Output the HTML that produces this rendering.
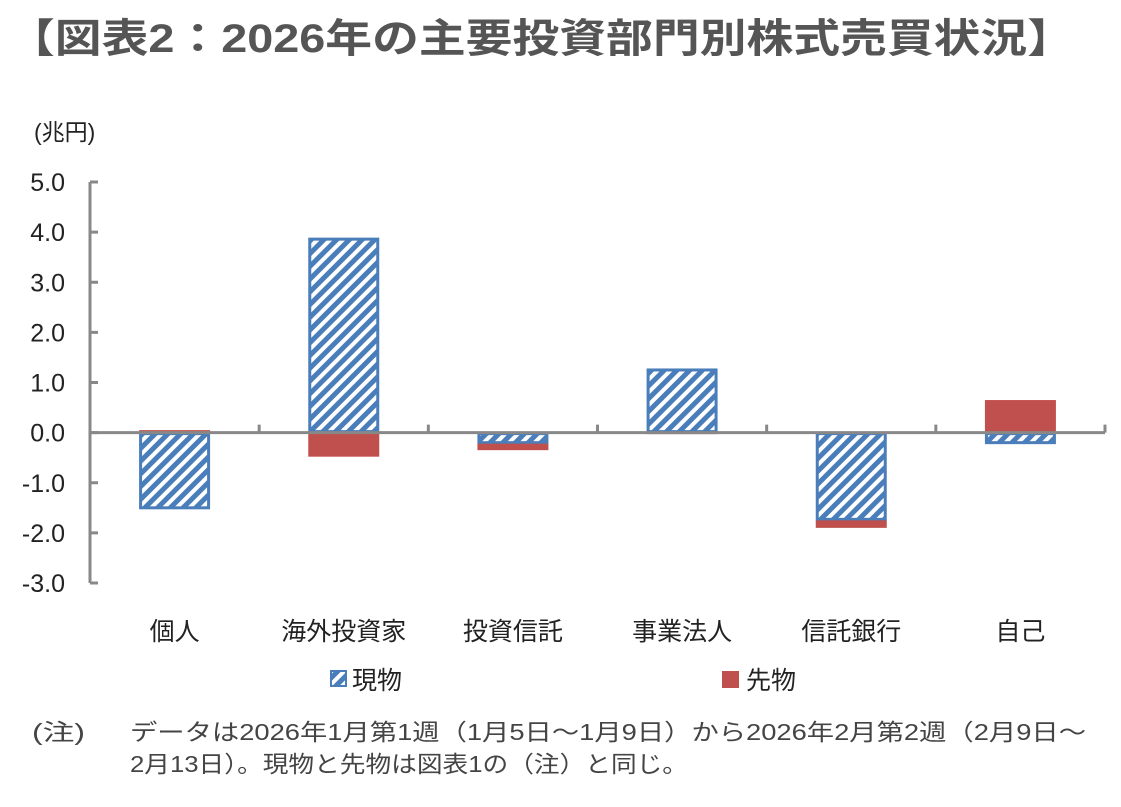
<!DOCTYPE html>
<html><head><meta charset="utf-8"><style>
body{margin:0;background:#fff;width:1121px;height:802px;overflow:hidden;font-family:"Liberation Sans","Noto Sans CJK JP",sans-serif;}
</style></head><body>
<svg width="1121" height="802" xmlns="http://www.w3.org/2000/svg">
<defs>
<pattern id="hatch" patternUnits="userSpaceOnUse" width="9" height="9" patternTransform="rotate(-45)">
<rect width="9" height="9" fill="#fff"/><rect width="9" height="5" fill="#4a7ebb"/>
</pattern>
</defs>
<text x="8" y="52" font-size="40" font-weight="bold" fill="#555" textLength="1066" lengthAdjust="spacingAndGlyphs">【図表2：2026年の主要投資部門別株式売買状況】</text>
<text x="34" y="140" font-size="23" fill="#222">(兆円)</text>
<g id="axes"></g>
<g id="bars"></g>
<g>
<rect x="331" y="671" width="15" height="15" fill="url(#hatch)" stroke="#4a7ebb" stroke-width="2"/>
<text x="352" y="689" font-size="25" fill="#222">現物</text>
<rect x="722" y="671" width="17" height="17" fill="#c0504d"/>
<text x="746" y="689" font-size="25" fill="#222">先物</text>
</g>
<g font-size="23" fill="#444">
<text x="32" y="740" textLength="53" lengthAdjust="spacingAndGlyphs">(注)</text>
<text x="130" y="740" textLength="956" lengthAdjust="spacingAndGlyphs">データは2026年1月第1週（1月5日～1月9日）から2026年2月第2週（2月9日～</text>
<text x="130" y="772" textLength="558" lengthAdjust="spacingAndGlyphs">2月13日）。現物と先物は図表1の（注）と同じ。</text>
</g>
</svg>
<script>
const categories=["個人","海外投資家","投資信託","事業法人","信託銀行","自己"];
const spot=[-1.52,3.88,-0.22,1.27,-1.75,-0.22];
const futures=[0.05,-0.48,-0.13,-0.03,-0.15,0.65];
const yTicks=[5,4,3,2,1,0,-1,-2,-3];
const NS="http://www.w3.org/2000/svg";
const x0=90,x1=1105,yTop=182,yBot=583,vMax=5,vMin=-3;
const y=v=>yTop+(vMax-v)/(vMax-vMin)*(yBot-yTop);
const bw=(x1-x0)/categories.length;
const cx=i=>x0+bw*(i+0.5);
function el(t,a,p){const e=document.createElementNS(NS,t);for(const k in a)e.setAttribute(k,a[k]);p.appendChild(e);return e;}
const ax=document.getElementById('axes'),bars=document.getElementById('bars');
const yl=el('line',{x1:x0,x2:x0,y1:yTop,y2:yBot,stroke:'#888','stroke-width':3},ax);


yTicks.forEach(t=>{
 el('line',{x1:x0,x2:x0+8,y1:y(t),y2:y(t),stroke:'#888','stroke-width':3},ax);
 const tx=el('text',{x:x0-25,y:y(t)+9,'text-anchor':'end','font-size':25,fill:'#222'},ax);
 tx.textContent=t.toFixed(1);
 
 
});
categories.forEach((c,i)=>{
 const sv=spot[i],fv=futures[i];
 let pos=0,neg=0;
 [[sv,'spot'],[fv,'fut']].forEach(([v,k])=>{
  let a,b;
  if(v>=0){a=pos;b=pos+v;pos=b;}else{a=neg;b=neg+v;neg=b;}
  const top=y(Math.max(a,b)),h=Math.abs(y(a)-y(b));
  const r=k==='spot'?el('rect',{x:cx(i)-34,y:top+1,width:68,height:Math.max(h-2,0),fill:'url(#hatch)',stroke:'#4a7ebb','stroke-width':3},bars)
   :el('rect',{x:cx(i)-35.5,y:top,width:71,height:h,fill:'#c0504d'},bars);
  
  
 });
 const lb=el('text',{x:cx(i),y:640,'text-anchor':'middle','font-size':25,fill:'#222'},ax);
 lb.textContent=c;
 
 
});
const xl=el('line',{x1:x0,x2:x1,y1:y(0),y2:y(0),stroke:'#888','stroke-width':3},bars);


for(let i=0;i<=categories.length;i++){
 el('line',{x1:x0+bw*i,x2:x0+bw*i,y1:y(0),y2:y(0)-8,stroke:'#888','stroke-width':3},bars);
}
</script>
</body></html>
